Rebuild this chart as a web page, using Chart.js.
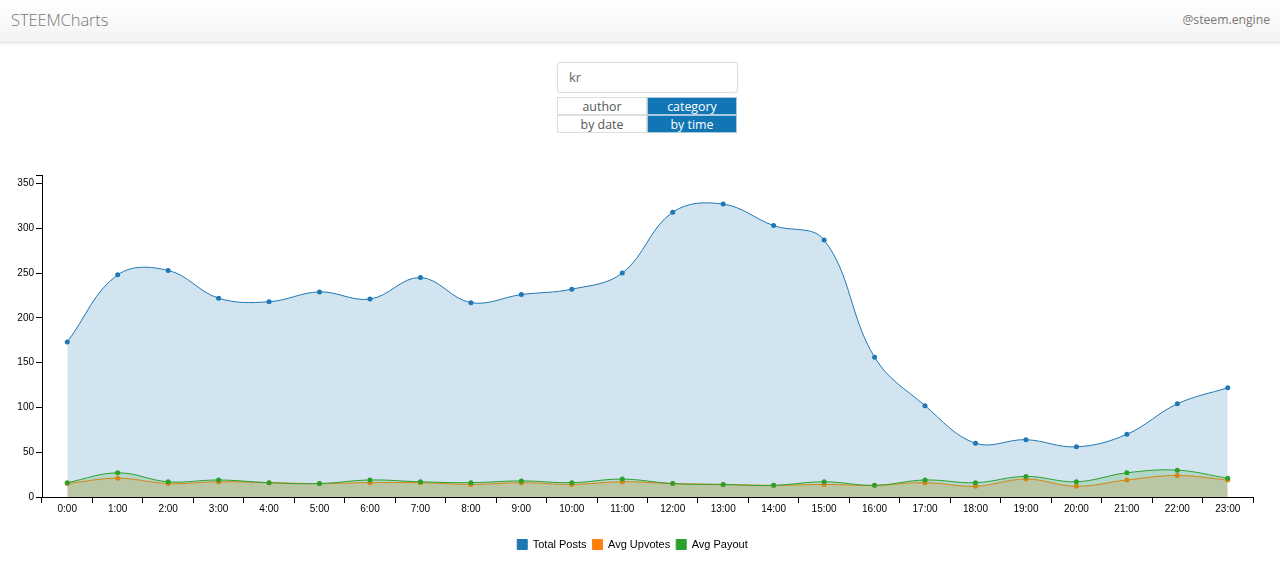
<!DOCTYPE html>
<html><head><meta charset="utf-8">
<script src="https://cdn.jsdelivr.net/npm/chart.js@4/dist/chart.umd.min.js"></script>
<style>
html,body{margin:0;padding:0;background:#fff;width:1280px;height:569px;overflow:hidden;font-family:"Open Sans",sans-serif;}
#nav{position:absolute;left:0;top:0;width:1280px;height:42px;background:linear-gradient(#ffffff,#f3f3f3);border-bottom:1px solid #e4e4e4;box-shadow:0 1px 3px rgba(0,0,0,.06);}
#brand{position:absolute;left:11px;top:8px;font-size:16.5px;line-height:24px;color:#777;font-weight:300;letter-spacing:-.1px;}
#user{position:absolute;right:10px;top:11px;font-size:12.2px;line-height:18px;color:#777;}
#search{position:absolute;left:557px;top:62px;width:179px;height:29px;border:1px solid #ddd;border-radius:4px;box-shadow:0 0 1px #ccc;font-size:13px;line-height:29px;color:#666;text-indent:11px;}
.b{position:absolute;width:90px;height:18px;box-sizing:border-box;font-size:12.4px;line-height:17px;text-align:center;color:#555;border:1px solid #ddd;}
.on{background:#1276b4;color:#fff;border-color:#a9c9de;}
#wrap{position:absolute;left:12px;top:165px;width:1268px;height:395px;}
</style></head><body>
<div id="nav"><div id="brand">STEEMCharts</div><div id="user">@steem.engine</div></div>
<div id="search">kr</div>
<div class="b" style="left:557px;top:97px">author</div>
<div class="b on" style="left:647px;top:97px">category</div>
<div class="b" style="left:557px;top:115px">by date</div>
<div class="b on" style="left:647px;top:115px">by time</div>
<div id="wrap"><canvas id="c"></canvas></div>
<script>
const hours=["0:00","1:00","2:00","3:00","4:00","5:00","6:00","7:00","8:00","9:00","10:00","11:00","12:00","13:00","14:00","15:00","16:00","17:00","18:00","19:00","20:00","21:00","22:00","23:00"];
const totalPosts=[173,248,253,222,218,229,221,245,217,226,232,250,318,327,303,287,156,102,60,64,56,70,104,122];
const avgUpvotes=[15,21,15,17,16,15,16,16,14,16,14,17,15,14,13,14,13,16,12,20,12,19,24,19];
const avgPayout=[16,27,17,19,16,15,19,17,16,18,16,20,15,14,13,17,13,19,16,23,17,27,30,21];
const yTicks=[0,50,100,150,200,250,300,350];
const yMax=359.5, tickFont={family:'"Liberation Sans",Arial,sans-serif',size:10};
function ds(label,data,color,fill,order){return{label,data,borderColor:color,backgroundColor:color,borderWidth:1,pointRadius:2.5,pointHoverRadius:2.5,pointBorderWidth:0,pointBackgroundColor:color,tension:0.38,fill:{target:'origin',above:fill},order};}
const topTick={id:'topTick',afterDraw(ch){const s=ch.scales.y,c=ch.ctx;c.save();c.strokeStyle='#000';c.lineWidth=1;c.beginPath();c.moveTo(s.right-6,Math.round(s.top)+.5);c.lineTo(s.right,Math.round(s.top)+.5);c.stroke();c.restore();}};
new Chart(document.getElementById('c'),{type:'line',
data:{labels:hours,datasets:[ds('Total Posts',totalPosts,'#1f77b4','rgba(31,119,180,.2)',3),ds('Avg Upvotes',avgUpvotes,'#ff7f0e','rgba(255,127,14,.2)',2),ds('Avg Payout',avgPayout,'#2ca02c','rgba(44,160,44,.2)',1)]},
plugins:[topTick],
options:{responsive:true,maintainAspectRatio:false,animation:false,
layout:{padding:{top:10,right:27,bottom:0,left:0}},
plugins:{tooltip:{enabled:false},legend:{position:'bottom',labels:{sort:(a,b)=>a.datasetIndex-b.datasetIndex,boxWidth:10,boxHeight:10,padding:6,color:'#000',font:{family:'"Liberation Sans",Arial,sans-serif',size:11}}}},
scales:{
x:{offset:true,afterFit(s){s.height=36;},grid:{offset:true,drawOnChartArea:false,tickLength:6,color:'#000',tickColor:'#000'},border:{color:'#000',width:1},ticks:{color:'#000',font:tickFont,maxRotation:0,autoSkip:false,padding:0}},
y:{min:0,max:yMax,afterFit(s){s.width=30;},afterBuildTicks(s){s.ticks=yTicks.map(value=>({value}));},grid:{drawOnChartArea:false,tickLength:6,color:'#000',tickColor:'#000'},border:{color:'#000',width:1},ticks:{color:'#000',font:tickFont,padding:2}}
}}});
</script></body></html>
